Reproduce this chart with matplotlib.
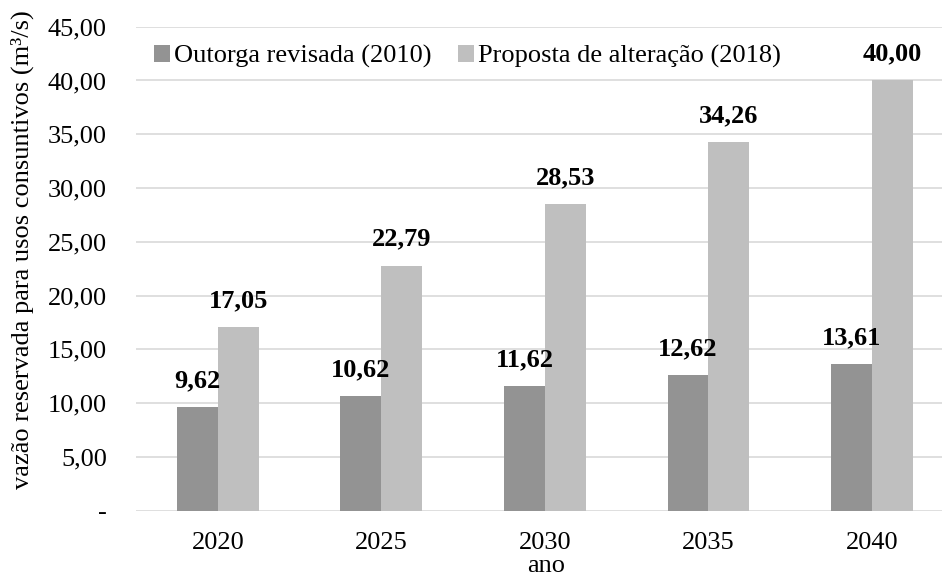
import matplotlib
matplotlib.use("Agg")
import matplotlib.pyplot as plt
import numpy as np
from matplotlib.ticker import FuncFormatter

anos = ["2020", "2025", "2030", "2035", "2040"]
outorga_2010 = [9.62, 10.62, 11.62, 12.62, 13.61]
proposta_2018 = [17.05, 22.79, 28.53, 34.26, 40.00]
series_names = ["Outorga revisada (2010)", "Proposta de alteração (2018)"]
colors = ["#939393", "#bfbfbf"]

plt.rcParams['font.family'] = ['Liberation Serif', 'DejaVu Serif']

fig = plt.figure(figsize=(9.42, 5.78), dpi=100)
ax_left = 136
ax_bottom_px = 510.7
ax_top_px = 26.7
ax = fig.add_axes([ax_left/942, (578-ax_bottom_px)/578, 1 - ax_left/942, (ax_bottom_px-ax_top_px)/578])

x = np.arange(len(anos))
w = 0.25
b1 = ax.bar(x - w/2, outorga_2010, w, color=colors[0], label=series_names[0], zorder=3)
b2 = ax.bar(x + w/2, proposta_2018, w, color=colors[1], label=series_names[1], zorder=3)

fmt = lambda v: f"{v:.2f}".replace('.', ',')
for bars, vals in ((b1, outorga_2010), (b2, proposta_2018)):
    for r, v in zip(bars, vals):
        ax.annotate(fmt(v), (r.get_x() + r.get_width()/2, v), xytext=(0, 19),
                    textcoords='offset points', ha='center', va='center',
                    fontsize=19, fontweight='bold', zorder=4)

ax.set_ylim(0, 45)
ax.set_yticks(np.arange(0, 46, 5))
ax.yaxis.set_major_formatter(FuncFormatter(lambda v, p: "-" if v == 0 else fmt(v)))
right = 4.5 - (953.75 - 942) / 163.5
ax.set_xlim(-0.5, right)
ax.set_xticks(x)
ax.set_xticklabels(anos)
ax.tick_params(axis='both', length=0, labelsize=19, colors='black')
ax.tick_params(axis='y', pad=21)
ax.tick_params(axis='x', pad=15)
ax.grid(axis='y', color='#d9d9d9', linewidth=1.2, zorder=0)
for s in ax.spines.values():
    s.set_visible(False)

ax_w = 942 - ax_left
ax_h = ax_bottom_px - ax_top_px
ax.set_xlabel("ano", fontsize=19)
ax.xaxis.set_label_coords((546 - ax_left)/ax_w, -(577 - ax_bottom_px)/ax_h)
ax.xaxis.label.set_va('bottom')
ax.set_ylabel("vazão reservada para usos consuntivos (m³/s)", fontsize=19)
ax.yaxis.set_label_coords((22 - ax_left)/ax_w, (ax_bottom_px - 250)/ax_h)
ax.yaxis.label.set_va('center')

ax.legend(loc='upper left', ncol=2, frameon=False, fontsize=19,
          handlelength=0.6, handleheight=0.6, handletextpad=0.15,
          columnspacing=1.0, bbox_to_anchor=(0.0, 1.0), borderaxespad=0.3)

fig.savefig("out.png", dpi=100)
